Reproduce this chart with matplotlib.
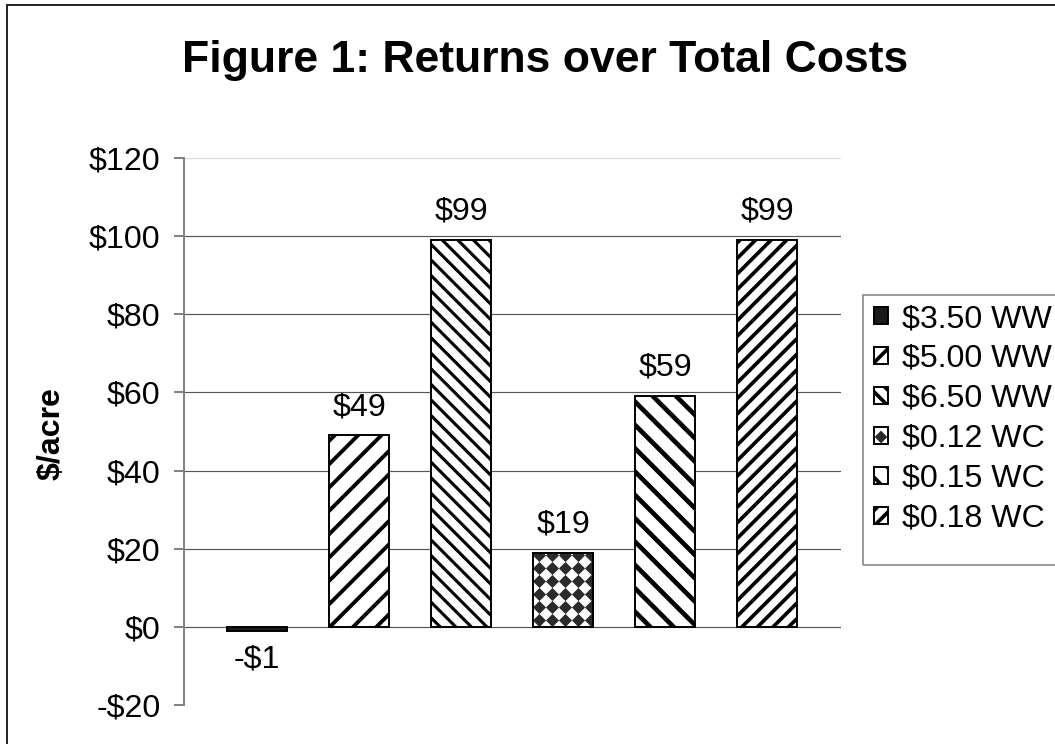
import numpy as np
import matplotlib.pyplot as plt
from matplotlib.patches import Rectangle
from matplotlib.lines import Line2D
from matplotlib.legend_handler import HandlerTuple

plt.rcParams['font.family'] = ['Liberation Sans', 'DejaVu Sans']
plt.rcParams['hatch.linewidth'] = 1.9

# data
series = ['$3.50 WW', '$5.00 WW', '$6.50 WW', '$0.12 WC', '$0.15 WC', '$0.18 WC']
returns = [-1, 49, 99, 19, 59, 99]
value_labels = ['-$1', '$49', '$99', '$19', '$59', '$99']
y_ticks = [-20, 0, 20, 40, 60, 80, 100, 120]
y_tick_labels = ['-$20', '$0', '$20', '$40', '$60', '$80', '$100', '$120']

# fill styles, one per series
face_colors = ['#1a1a1a', 'white', 'white', 'white', 'white', 'white']
hatches = [None, '//', '\\\\\\', None, '\\\\', '///']
hatch_lw = [1.0, 2.0, 1.6, 1.0, 2.4, 1.9]

DPI = 140
W, H = 1055, 744
FS = 16.5
fig = plt.figure(figsize=(W / DPI, H / DPI), dpi=DPI)
left, right, top, bottom = 184, 841, 158, 705
ax = fig.add_axes([left / W, 1 - bottom / H, (right - left) / W, (bottom - top) / H])

x = np.arange(len(series))
xlim = (-0.716, 5.725)
ylim = (-20, 120)

handles = []
bar_patches = []
for i in range(len(series)):
    with plt.rc_context({'hatch.linewidth': hatch_lw[i]}):
        b = ax.bar(x[i], returns[i], width=0.59, color=face_colors[i],
                   edgecolor='black', linewidth=1.0, hatch=hatches[i],
                   zorder=2, label=series[i])[0]
    if hasattr(b, 'set_hatch_linewidth'):
        b.set_hatch_linewidth(hatch_lw[i])
    bar_patches.append(b)
    handles.append(b)

ax.set_xlim(*xlim)
ax.set_ylim(*ylim)

# checkered diamond fill for the $0.12 WC bar
b4 = bar_patches[3]
dx = 13 * (xlim[1] - xlim[0]) / (right - left)
dy = 13 * (ylim[1] - ylim[0]) / (bottom - top)
bx0, bw = b4.get_x(), b4.get_width()
by0, bh = b4.get_y(), b4.get_height()
gx, gy = np.meshgrid(np.arange(bx0 + dx / 2, bx0 + bw + dx, dx),
                     np.arange(by0 + dy / 2, by0 + bh + dy, dy))
dots, = ax.plot(gx.ravel(), gy.ravel(), ls='none', marker='D', ms=4.2,
                mfc='#2a2a2a', mec='#2a2a2a', mew=0.4, zorder=3)
dots.set_clip_path(b4)
ax.bar(x[3], returns[3], width=0.59, fill=False, edgecolor='black',
       linewidth=1.0, zorder=4)
handles[3] = (b4, Line2D([], [], ls='none', marker='D', ms=3.4,
                         mfc='#2a2a2a', mec='#2a2a2a'))

# value labels
for xi, v, lbl in zip(x, returns, value_labels):
    off = 14.6 if v >= 0 else -15.0
    ax.annotate(lbl, (xi, v), xytext=(0, off), textcoords='offset points',
                ha='center', va='center', fontsize=FS)

# axes styling
ax.set_yticks(y_ticks)
ax.set_yticklabels(y_tick_labels, fontsize=FS)
ax.set_xticks([])
ax.tick_params(axis='y', direction='out', length=5, width=1.0,
               color='#808080', pad=7)
for s in ['top', 'right', 'bottom']:
    ax.spines[s].set_visible(False)
ax.spines['left'].set_color('#808080')
ax.spines['left'].set_linewidth(1.0)
for t in y_ticks[1:]:
    col = '#d8d8d8' if t == 120 else '#555555'
    ax.axhline(t, color=col, lw=0.6, zorder=1)

fig.text(545 / W, 1 - 72 / H, 'Figure 1: Returns over Total Costs',
         ha='center', va='baseline', fontsize=22.9, fontweight='bold')
fig.text(52 / W, 1 - 434 / H, '$/acre', rotation=90, ha='center',
         va='center', fontsize=FS, fontweight='bold')

# legend and its frame
fig.add_artist(Rectangle((863 / W, 1 - 565 / H), 0.3, (565 - 295) / H,
                         transform=fig.transFigure, fill=False,
                         edgecolor='#808080', lw=0.8))
fig.legend(handles, series, loc='upper left',
           bbox_to_anchor=(874 / W, 1 - 304 / H), frameon=False,
           fontsize=FS, labelspacing=0.31, handlelength=0.45,
           handleheight=0.45, handletextpad=0.42, borderpad=0,
           borderaxespad=0, handler_map={tuple: HandlerTuple(ndivide=1)})

# outer border of the chart
fig.add_artist(Rectangle((7 / W, -0.1), 1.2, 1.1 - 5 / H,
                         transform=fig.transFigure, fill=False,
                         edgecolor='#222222', lw=1.0))

fig.savefig('out.png', dpi=DPI)
